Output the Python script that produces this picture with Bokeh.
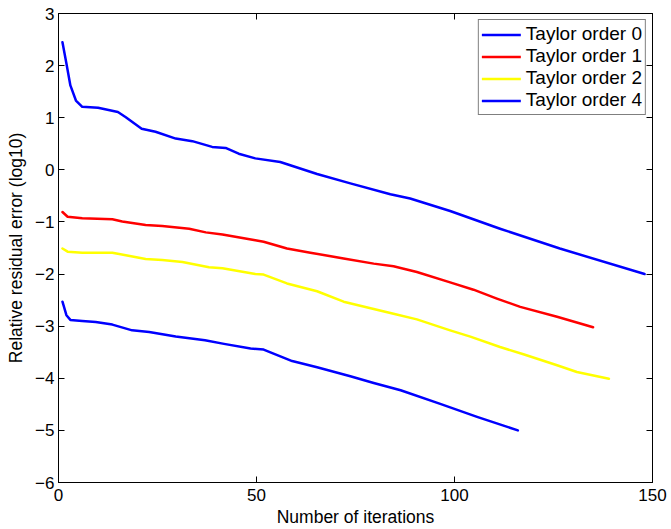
from bokeh.plotting import figure
from bokeh.models import Range1d, FixedTicker, LinearAxis, Legend, LegendItem
from bokeh.embed import file_html
from bokeh.resources import INLINE

# Convergence history: iteration number vs log10 of the relative residual error
iters_order0 = [1, 2, 3, 4.4, 6, 10, 15, 17, 21, 24.5, 29.6, 33.8, 38.8, 42.2, 45.5,
                49.7, 56, 65.3, 73.7, 83.8, 88.8, 98.9, 111.5, 126.6, 148]
err_order0 = [2.45, 2.04, 1.62, 1.33, 1.21, 1.19, 1.11, 1.01, 0.79, 0.73, 0.60, 0.55,
              0.44, 0.42, 0.31, 0.22, 0.15, -0.08, -0.26, -0.47, -0.55, -0.79, -1.13,
              -1.51, -2.0]

iters_order1 = [1, 2.3, 6, 13.6, 16.1, 22, 26.2, 33, 37.2, 41.4, 49.7, 51.8, 57.7, 63.6,
                72, 79.6, 84.6, 90.5, 98.9, 104.8, 110.7, 116.6, 125.9, 135]
err_order1 = [-0.81, -0.90, -0.93, -0.95, -0.99, -1.06, -1.08, -1.13, -1.20, -1.24,
              -1.35, -1.38, -1.51, -1.59, -1.70, -1.80, -1.85, -1.96, -2.16, -2.30,
              -2.47, -2.63, -2.82, -3.02]

iters_order2 = [1, 2.3, 6, 13.6, 17, 22, 26.2, 31.3, 38, 41.4, 49.7, 51.8, 57.7, 65.3,
                72, 79.6, 84.6, 90.5, 98.9, 104, 111.5, 117.4, 125.9, 130.9, 139]
err_order2 = [-1.51, -1.57, -1.59, -1.59, -1.64, -1.71, -1.73, -1.77, -1.87, -1.89,
              -2.0, -2.01, -2.18, -2.33, -2.53, -2.67, -2.76, -2.87, -3.08, -3.20,
              -3.40, -3.54, -3.75, -3.88, -4.01]

iters_order4 = [1, 2, 3, 6, 9.4, 13.6, 18.6, 22.9, 29.6, 37, 41.8, 48.5, 51.8, 59, 65.3,
                73.7, 79.6, 86.4, 96.4, 105.7, 116]
err_order4 = [-2.53, -2.79, -2.88, -2.90, -2.92, -2.97, -3.08, -3.11, -3.20, -3.27,
              -3.34, -3.43, -3.45, -3.67, -3.79, -3.96, -4.09, -4.23, -4.49, -4.74, -5.0]

series_names = ["Taylor order 0", "Taylor order 1", "Taylor order 2", "Taylor order 4"]
series_colors = ["#0000ff", "#ff0000", "#ffff00", "#0000ff"]

x_ticks = [0, 50, 100, 150]
y_ticks = [-6, -5, -4, -3, -2, -1, 0, 1, 2, 3]
y_tick_labels = ["\u22126", "\u22125", "\u22124", "\u22123", "\u22122", "\u22121",
                 "0", "1", "2", "3"]

FONT = "Liberation Sans"

p = figure(width=671, height=529, output_backend="svg", toolbar_location=None,
           x_range=Range1d(0, 150), y_range=Range1d(-6, 3),
           min_border_left=58, min_border_right=19, min_border_top=13,
           min_border_bottom=47)
p.grid.visible = False
p.outline_line_color = "black"
p.outline_line_width = 1
p.background_fill_color = "white"
p.border_fill_color = "white"


def style_axis(ax, ticks):
    ax.ticker = FixedTicker(ticks=ticks)
    ax.axis_line_color = "black"
    ax.major_tick_line_color = "black"
    ax.major_tick_in = 6
    ax.major_tick_out = 0
    ax.minor_tick_line_color = None
    ax.major_label_text_font = FONT
    ax.major_label_text_font_size = "17px"
    ax.major_label_text_color = "black"
    ax.axis_label_text_font = FONT
    ax.axis_label_text_font_size = "17.5px"
    ax.axis_label_text_font_style = "normal"
    ax.axis_label_text_color = "black"


xa = p.xaxis[0]
style_axis(xa, x_ticks)
xa.axis_label = "Number of iterations"
xa.major_label_standoff = 6
xa.axis_label_standoff = 3

ya = p.yaxis[0]
style_axis(ya, y_ticks)
ya.major_label_overrides = {t: s for t, s in zip(y_ticks, y_tick_labels)}
ya.axis_label = "Relative residual error (log10)"
ya.major_label_standoff = 4
ya.axis_label_standoff = 6

# Box ticks on the top and right edges, with their labels left undrawn
for side, ticks in (("above", x_ticks), ("right", y_ticks)):
    ax = LinearAxis()
    style_axis(ax, ticks)
    ax.major_label_overrides = {t: "" for t in ticks}
    ax.major_label_text_color = None
    ax.major_label_text_font_size = "1px"
    ax.major_label_standoff = 0
    p.add_layout(ax, side)

renderers = []
for xs, ys, color in zip([iters_order0, iters_order1, iters_order2, iters_order4],
                         [err_order0, err_order1, err_order2, err_order4],
                         series_colors):
    r = p.line(xs, ys, line_color=color, line_width=2.5, line_join="round",
               line_cap="round")
    renderers.append(r)

legend = Legend(items=[LegendItem(label=n, renderers=[r])
                       for n, r in zip(series_names, renderers)],
                location="top_right")
legend.border_line_color = "black"
legend.border_line_width = 1
legend.background_fill_color = "white"
legend.background_fill_alpha = 1
legend.label_text_font = FONT
legend.label_text_font_size = "19px"
legend.label_text_color = "black"
legend.label_text_line_height = 1.0
legend.glyph_width = 39
legend.glyph_height = 19
legend.label_height = 19
legend.label_standoff = 5
legend.spacing = 0
legend.padding = 3
legend.margin = 6
p.add_layout(legend)

open("out.html", "w").write(file_html(p, INLINE))
